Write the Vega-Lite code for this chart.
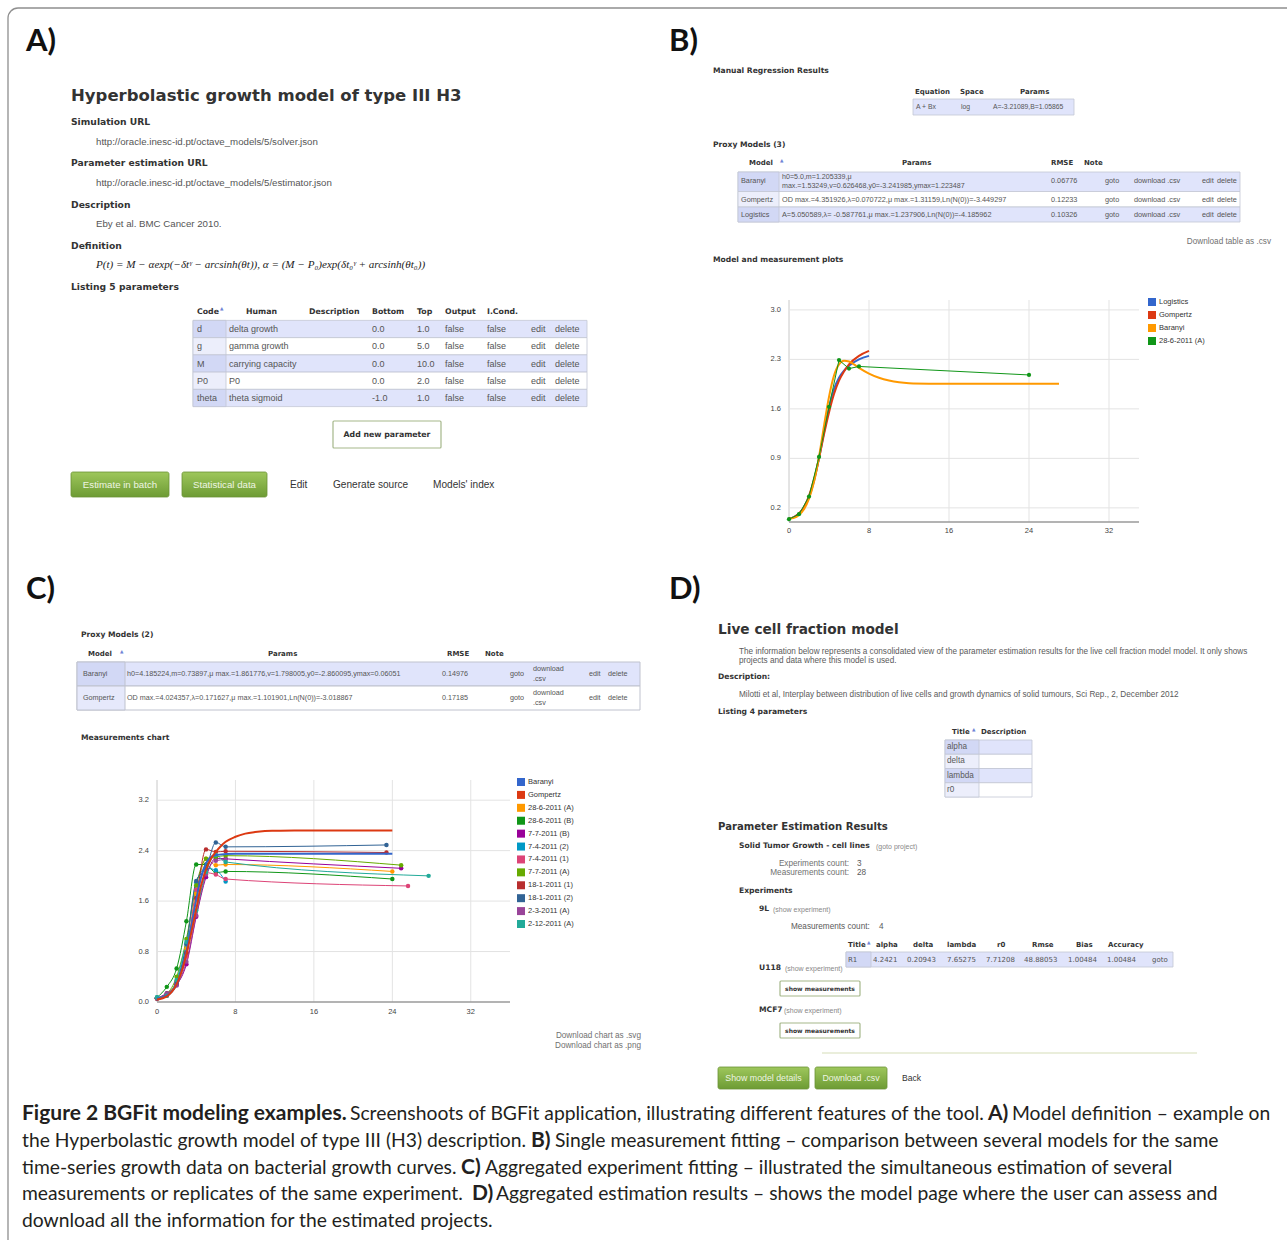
{
"$schema":"https://vega.github.io/schema/vega-lite/v6.json",
"width":1287,"height":1240,"padding":0,"autosize":{"type":"none"},
"background":"#ffffff",
"config":{"view":{"stroke":null},"text":{"font":"Liberation Sans"}},
"resolve":{"scale":{"x":"independent","y":"independent","color":"independent","fill":"independent"},"legend":{"color":"independent","fill":"independent"}},
"datasets":{
"chartB":[
{"s":"Logistics","k":"m","t":0,"v":0.05},{"s":"Logistics","k":"m","t":0.5,"v":0.07},{"s":"Logistics","k":"m","t":1,"v":0.12},{"s":"Logistics","k":"m","t":1.5,"v":0.2},{"s":"Logistics","k":"m","t":2,"v":0.35},{"s":"Logistics","k":"m","t":2.5,"v":0.58},{"s":"Logistics","k":"m","t":3,"v":0.9},{"s":"Logistics","k":"m","t":3.5,"v":1.27},{"s":"Logistics","k":"m","t":4,"v":1.62},{"s":"Logistics","k":"m","t":4.5,"v":1.88},{"s":"Logistics","k":"m","t":5,"v":2.04},{"s":"Logistics","k":"m","t":5.5,"v":2.14},{"s":"Logistics","k":"m","t":6,"v":2.21},{"s":"Logistics","k":"m","t":7,"v":2.3},{"s":"Logistics","k":"m","t":8,"v":2.35},
{"s":"Gompertz","k":"m","t":0,"v":0.05},{"s":"Gompertz","k":"m","t":0.5,"v":0.07},{"s":"Gompertz","k":"m","t":1,"v":0.12},{"s":"Gompertz","k":"m","t":1.5,"v":0.21},{"s":"Gompertz","k":"m","t":2,"v":0.37},{"s":"Gompertz","k":"m","t":2.5,"v":0.6},{"s":"Gompertz","k":"m","t":3,"v":0.9},{"s":"Gompertz","k":"m","t":3.5,"v":1.24},{"s":"Gompertz","k":"m","t":4,"v":1.55},{"s":"Gompertz","k":"m","t":4.5,"v":1.81},{"s":"Gompertz","k":"m","t":5,"v":2.0},{"s":"Gompertz","k":"m","t":5.5,"v":2.13},{"s":"Gompertz","k":"m","t":6,"v":2.23},{"s":"Gompertz","k":"m","t":7,"v":2.35},{"s":"Gompertz","k":"m","t":8,"v":2.42},
{"s":"Baranyi","k":"m","t":0,"v":0.05},{"s":"Baranyi","k":"m","t":0.5,"v":0.06},{"s":"Baranyi","k":"m","t":1,"v":0.1},{"s":"Baranyi","k":"m","t":1.5,"v":0.18},{"s":"Baranyi","k":"m","t":2,"v":0.33},{"s":"Baranyi","k":"m","t":2.5,"v":0.57},{"s":"Baranyi","k":"m","t":3,"v":0.92},{"s":"Baranyi","k":"m","t":3.5,"v":1.36},{"s":"Baranyi","k":"m","t":4,"v":1.77},{"s":"Baranyi","k":"m","t":4.5,"v":2.07},{"s":"Baranyi","k":"m","t":5,"v":2.23},{"s":"Baranyi","k":"m","t":5.5,"v":2.28},{"s":"Baranyi","k":"m","t":6,"v":2.27},{"s":"Baranyi","k":"m","t":6.5,"v":2.23},{"s":"Baranyi","k":"m","t":7,"v":2.18},{"s":"Baranyi","k":"m","t":8,"v":2.1},{"s":"Baranyi","k":"m","t":9,"v":2.04},{"s":"Baranyi","k":"m","t":10,"v":2.0},{"s":"Baranyi","k":"m","t":11,"v":1.975},{"s":"Baranyi","k":"m","t":12,"v":1.963},{"s":"Baranyi","k":"m","t":14,"v":1.957},{"s":"Baranyi","k":"m","t":18,"v":1.955},{"s":"Baranyi","k":"m","t":27,"v":1.955},
{"s":"28-6-2011 (A)","k":"d","t":0,"v":0.04},{"s":"28-6-2011 (A)","k":"d","t":1,"v":0.11},{"s":"28-6-2011 (A)","k":"d","t":2,"v":0.36},{"s":"28-6-2011 (A)","k":"d","t":3,"v":0.92},{"s":"28-6-2011 (A)","k":"d","t":4,"v":1.63},{"s":"28-6-2011 (A)","k":"d","t":5,"v":2.29},{"s":"28-6-2011 (A)","k":"d","t":6,"v":2.17},{"s":"28-6-2011 (A)","k":"d","t":7,"v":2.2},{"s":"28-6-2011 (A)","k":"d","t":24,"v":2.08}
],
"chartC":[
{"s":"Baranyi","k":"m","t":0,"v":0.05},{"s":"Baranyi","k":"m","t":1,"v":0.1},{"s":"Baranyi","k":"m","t":1.5,"v":0.16},{"s":"Baranyi","k":"m","t":2,"v":0.28},{"s":"Baranyi","k":"m","t":2.5,"v":0.5},{"s":"Baranyi","k":"m","t":3,"v":0.8},{"s":"Baranyi","k":"m","t":3.5,"v":1.2},{"s":"Baranyi","k":"m","t":4,"v":1.62},{"s":"Baranyi","k":"m","t":4.5,"v":1.98},{"s":"Baranyi","k":"m","t":5,"v":2.2},{"s":"Baranyi","k":"m","t":5.5,"v":2.3},{"s":"Baranyi","k":"m","t":6,"v":2.33},{"s":"Baranyi","k":"m","t":7,"v":2.345},{"s":"Baranyi","k":"m","t":8,"v":2.35},{"s":"Baranyi","k":"m","t":24,"v":2.35},
{"s":"Gompertz","k":"m","t":0,"v":0.04},{"s":"Gompertz","k":"m","t":1,"v":0.09},{"s":"Gompertz","k":"m","t":1.5,"v":0.16},{"s":"Gompertz","k":"m","t":2,"v":0.28},{"s":"Gompertz","k":"m","t":2.5,"v":0.48},{"s":"Gompertz","k":"m","t":3,"v":0.76},{"s":"Gompertz","k":"m","t":3.5,"v":1.1},{"s":"Gompertz","k":"m","t":4,"v":1.47},{"s":"Gompertz","k":"m","t":4.5,"v":1.85},{"s":"Gompertz","k":"m","t":5,"v":2.1},{"s":"Gompertz","k":"m","t":5.5,"v":2.27},{"s":"Gompertz","k":"m","t":6,"v":2.38},{"s":"Gompertz","k":"m","t":6.5,"v":2.47},{"s":"Gompertz","k":"m","t":7,"v":2.54},{"s":"Gompertz","k":"m","t":8,"v":2.62},{"s":"Gompertz","k":"m","t":9,"v":2.67},{"s":"Gompertz","k":"m","t":10,"v":2.695},{"s":"Gompertz","k":"m","t":11,"v":2.71},{"s":"Gompertz","k":"m","t":12,"v":2.715},{"s":"Gompertz","k":"m","t":14,"v":2.72},{"s":"Gompertz","k":"m","t":24,"v":2.72},
{"s":"28-6-2011 (A)","k":"d","t":0,"v":0.06},{"s":"28-6-2011 (A)","k":"d","t":1,"v":0.12},{"s":"28-6-2011 (A)","k":"d","t":2,"v":0.33},{"s":"28-6-2011 (A)","k":"d","t":3,"v":0.85},{"s":"28-6-2011 (A)","k":"d","t":4,"v":1.72},{"s":"28-6-2011 (A)","k":"d","t":5,"v":2.27},{"s":"28-6-2011 (A)","k":"d","t":6,"v":2.17},{"s":"28-6-2011 (A)","k":"d","t":7,"v":2.18},{"s":"28-6-2011 (A)","k":"d","t":24,"v":2.07},
{"s":"28-6-2011 (B)","k":"d","t":0,"v":0.07},{"s":"28-6-2011 (B)","k":"d","t":1,"v":0.24},{"s":"28-6-2011 (B)","k":"d","t":2,"v":0.53},{"s":"28-6-2011 (B)","k":"d","t":3,"v":1.28},{"s":"28-6-2011 (B)","k":"d","t":4,"v":2.18},{"s":"28-6-2011 (B)","k":"d","t":5,"v":2.18},{"s":"28-6-2011 (B)","k":"d","t":6,"v":2.05},{"s":"28-6-2011 (B)","k":"d","t":7,"v":2.07},{"s":"28-6-2011 (B)","k":"d","t":24,"v":1.95},
{"s":"7-7-2011 (B)","k":"d","t":0,"v":0.06},{"s":"7-7-2011 (B)","k":"d","t":1,"v":0.14},{"s":"7-7-2011 (B)","k":"d","t":2,"v":0.27},{"s":"7-7-2011 (B)","k":"d","t":3,"v":0.6},{"s":"7-7-2011 (B)","k":"d","t":4,"v":1.35},{"s":"7-7-2011 (B)","k":"d","t":5,"v":1.98},{"s":"7-7-2011 (B)","k":"d","t":6,"v":2.28},{"s":"7-7-2011 (B)","k":"d","t":7,"v":2.27},{"s":"7-7-2011 (B)","k":"d","t":24.9,"v":2.12},
{"s":"7-4-2011 (2)","k":"d","t":0,"v":0.07},{"s":"7-4-2011 (2)","k":"d","t":1,"v":0.12},{"s":"7-4-2011 (2)","k":"d","t":2,"v":0.32},{"s":"7-4-2011 (2)","k":"d","t":3,"v":0.92},{"s":"7-4-2011 (2)","k":"d","t":4,"v":1.9},{"s":"7-4-2011 (2)","k":"d","t":5,"v":2.12},{"s":"7-4-2011 (2)","k":"d","t":6,"v":2.09},{"s":"7-4-2011 (2)","k":"d","t":7,"v":1.91},
{"s":"7-4-2011 (1)","k":"d","t":0,"v":0.06},{"s":"7-4-2011 (1)","k":"d","t":1,"v":0.12},{"s":"7-4-2011 (1)","k":"d","t":2,"v":0.3},{"s":"7-4-2011 (1)","k":"d","t":3,"v":0.72},{"s":"7-4-2011 (1)","k":"d","t":4,"v":1.78},{"s":"7-4-2011 (1)","k":"d","t":5,"v":2.05},{"s":"7-4-2011 (1)","k":"d","t":6,"v":2.02},{"s":"7-4-2011 (1)","k":"d","t":7,"v":1.95},{"s":"7-4-2011 (1)","k":"d","t":25.6,"v":1.84},
{"s":"7-7-2011 (A)","k":"d","t":0,"v":0.06},{"s":"7-7-2011 (A)","k":"d","t":1,"v":0.13},{"s":"7-7-2011 (A)","k":"d","t":2,"v":0.4},{"s":"7-7-2011 (A)","k":"d","t":3,"v":1.0},{"s":"7-7-2011 (A)","k":"d","t":4,"v":1.85},{"s":"7-7-2011 (A)","k":"d","t":5,"v":2.27},{"s":"7-7-2011 (A)","k":"d","t":6,"v":2.3},{"s":"7-7-2011 (A)","k":"d","t":7,"v":2.32},{"s":"7-7-2011 (A)","k":"d","t":24.9,"v":2.17},
{"s":"18-1-2011 (1)","k":"d","t":0,"v":0.05},{"s":"18-1-2011 (1)","k":"d","t":1,"v":0.1},{"s":"18-1-2011 (1)","k":"d","t":2,"v":0.28},{"s":"18-1-2011 (1)","k":"d","t":3,"v":0.78},{"s":"18-1-2011 (1)","k":"d","t":4,"v":1.65},{"s":"18-1-2011 (1)","k":"d","t":5,"v":2.42},{"s":"18-1-2011 (1)","k":"d","t":6,"v":2.38},{"s":"18-1-2011 (1)","k":"d","t":7,"v":2.39},{"s":"18-1-2011 (1)","k":"d","t":23.4,"v":2.37},
{"s":"18-1-2011 (2)","k":"d","t":0,"v":0.06},{"s":"18-1-2011 (2)","k":"d","t":1,"v":0.11},{"s":"18-1-2011 (2)","k":"d","t":2,"v":0.3},{"s":"18-1-2011 (2)","k":"d","t":3,"v":0.92},{"s":"18-1-2011 (2)","k":"d","t":4,"v":1.92},{"s":"18-1-2011 (2)","k":"d","t":5,"v":2.12},{"s":"18-1-2011 (2)","k":"d","t":6,"v":2.53},{"s":"18-1-2011 (2)","k":"d","t":7,"v":2.46},{"s":"18-1-2011 (2)","k":"d","t":23.4,"v":2.49},
{"s":"2-3-2011 (A)","k":"d","t":0,"v":0.06},{"s":"2-3-2011 (A)","k":"d","t":1,"v":0.13},{"s":"2-3-2011 (A)","k":"d","t":2,"v":0.26},{"s":"2-3-2011 (A)","k":"d","t":3,"v":0.64},{"s":"2-3-2011 (A)","k":"d","t":4,"v":1.37},{"s":"2-3-2011 (A)","k":"d","t":5,"v":2.02},{"s":"2-3-2011 (A)","k":"d","t":6,"v":2.24},{"s":"2-3-2011 (A)","k":"d","t":7,"v":2.26},
{"s":"2-12-2011 (A)","k":"d","t":0,"v":0.07},{"s":"2-12-2011 (A)","k":"d","t":1,"v":0.1},{"s":"2-12-2011 (A)","k":"d","t":2,"v":0.35},{"s":"2-12-2011 (A)","k":"d","t":3,"v":0.95},{"s":"2-12-2011 (A)","k":"d","t":4,"v":1.45},{"s":"2-12-2011 (A)","k":"d","t":5,"v":2.06},{"s":"2-12-2011 (A)","k":"d","t":6,"v":2.33},{"s":"2-12-2011 (A)","k":"d","t":7,"v":2.22},{"s":"2-12-2011 (A)","k":"d","t":27.7,"v":2.0}
],
"legB":[{"s":"Logistics","i":0},{"s":"Gompertz","i":1},{"s":"Baranyi","i":2},{"s":"28-6-2011 (A)","i":3}],
"legC":[{"s":"Baranyi","i":0},{"s":"Gompertz","i":1},{"s":"28-6-2011 (A)","i":2},{"s":"28-6-2011 (B)","i":3},{"s":"7-7-2011 (B)","i":4},{"s":"7-4-2011 (2)","i":5},{"s":"7-4-2011 (1)","i":6},{"s":"7-7-2011 (A)","i":7},{"s":"18-1-2011 (1)","i":8},{"s":"18-1-2011 (2)","i":9},{"s":"2-3-2011 (A)","i":10},{"s":"2-12-2011 (A)","i":11}]
},
"layer":[
{"data":{"values":[{"a":0,"b":1}]},"mark":{"type":"rect","fillOpacity":0,"stroke":"#8f8f8f","strokeWidth":1.3,"cornerRadius":10},
 "encoding":{"x":{"field":"a","type":"quantitative","scale":{"domain":[0,1],"range":[8,1300],"nice":false,"zero":false},"axis":null},"x2":{"field":"b"},
 "y":{"field":"a","type":"quantitative","scale":{"domain":[0,1],"range":[8,1262],"nice":false,"zero":false},"axis":null},"y2":{"field":"b"}}},

{"data":{"values":[{"tb":"A","r":0},{"tb":"A","r":1},{"tb":"A","r":2},{"tb":"A","r":3},{"tb":"A","r":4}]},"mark":{"type":"rect","stroke":"#c3c6d4","strokeWidth":0.8},
 "encoding":{"x":{"field":"tb","type":"nominal","scale":{"type":"band","range":[193,587],"paddingInner":0,"paddingOuter":0},"axis":null},
 "y":{"field":"r","type":"ordinal","scale":{"type":"band","domain":[0,1,2,3,4],"range":[320.4,406.6],"paddingInner":0,"paddingOuter":0},"axis":null},
 "fill":{"field":"r","type":"ordinal","scale":{"domain":[0,1,2,3,4],"range":["#e0e4fb","#ffffff","#e0e4fb","#ffffff","#e0e4fb"]},"legend":null}}},
{"data":{"values":[{"tb":"A","r":0},{"tb":"A","r":1},{"tb":"A","r":2},{"tb":"A","r":3},{"tb":"A","r":4}]},"mark":{"type":"rect","stroke":"#c3c6d4","strokeWidth":0.8},
 "encoding":{"x":{"field":"tb","type":"nominal","scale":{"type":"band","range":[193,226],"paddingInner":0,"paddingOuter":0},"axis":null},
 "y":{"field":"r","type":"ordinal","scale":{"type":"band","domain":[0,1,2,3,4],"range":[320.4,406.6],"paddingInner":0,"paddingOuter":0},"axis":null},
 "fill":{"field":"r","type":"ordinal","scale":{"domain":[0,1,2,3,4],"range":["#d2d8f5","#eceefb","#d2d8f5","#eceefb","#d2d8f5"]},"legend":null}}},

{"data":{"values":[{"tb":"b"}]},"mark":{"type":"rect","fill":"#e0e4fb","stroke":"#c3c6d4","strokeWidth":0.8},
 "encoding":{"x":{"field":"tb","type":"nominal","scale":{"type":"band","range":[913,1074],"paddingInner":0,"paddingOuter":0},"axis":null},
 "y":{"field":"tb","type":"nominal","scale":{"type":"band","range":[99,115],"paddingInner":0,"paddingOuter":0},"axis":null}}},

{"data":{"values":[{"tb":"P","r":0,"r2":1},{"tb":"P","r":1,"r2":2},{"tb":"P","r":2,"r2":3}]},"mark":{"type":"rect","stroke":"#c3c6d4","strokeWidth":0.8},
 "encoding":{"x":{"field":"tb","type":"nominal","scale":{"type":"band","range":[738,1240],"paddingInner":0,"paddingOuter":0},"axis":null},
 "y":{"field":"r","type":"quantitative","scale":{"domain":[0,1,2,3],"range":[172,191.5,207,222],"nice":false,"zero":false},"axis":null},"y2":{"field":"r2"},
 "fill":{"field":"r","type":"ordinal","scale":{"domain":[0,1,2],"range":["#e0e4fb","#ffffff","#e0e4fb"]},"legend":null}}},
{"data":{"values":[{"tb":"P","r":0,"r2":1},{"tb":"P","r":1,"r2":2},{"tb":"P","r":2,"r2":3}]},"mark":{"type":"rect","stroke":"#c3c6d4","strokeWidth":0.8},
 "encoding":{"x":{"field":"tb","type":"nominal","scale":{"type":"band","range":[738,779],"paddingInner":0,"paddingOuter":0},"axis":null},
 "y":{"field":"r","type":"quantitative","scale":{"domain":[0,1,2,3],"range":[172,191.5,207,222],"nice":false,"zero":false},"axis":null},"y2":{"field":"r2"},
 "fill":{"field":"r","type":"ordinal","scale":{"domain":[0,1,2],"range":["#d2d8f5","#eceefb","#d2d8f5"]},"legend":null}}},

{"data":{"values":[{"tb":"C","r":0},{"tb":"C","r":1}]},"mark":{"type":"rect","stroke":"#bfc2ce","strokeWidth":1},
 "encoding":{"x":{"field":"tb","type":"nominal","scale":{"type":"band","range":[77,640],"paddingInner":0,"paddingOuter":0},"axis":null},
 "y":{"field":"r","type":"ordinal","scale":{"type":"band","domain":[0,1],"range":[662,710],"paddingInner":0,"paddingOuter":0},"axis":null},
 "fill":{"field":"r","type":"ordinal","scale":{"domain":[0,1],"range":["#e0e4fb","#ffffff"]},"legend":null}}},
{"data":{"values":[{"tb":"C","r":0},{"tb":"C","r":1}]},"mark":{"type":"rect","stroke":"#bfc2ce","strokeWidth":1},
 "encoding":{"x":{"field":"tb","type":"nominal","scale":{"type":"band","range":[77,125],"paddingInner":0,"paddingOuter":0},"axis":null},
 "y":{"field":"r","type":"ordinal","scale":{"type":"band","domain":[0,1],"range":[662,710],"paddingInner":0,"paddingOuter":0},"axis":null},
 "fill":{"field":"r","type":"ordinal","scale":{"domain":[0,1],"range":["#d2d8f5","#e6e9fb"]},"legend":null}}},

{"data":{"values":[{"tb":"D","r":0},{"tb":"D","r":1},{"tb":"D","r":2},{"tb":"D","r":3}]},"mark":{"type":"rect","stroke":"#c3c6d4","strokeWidth":0.8},
 "encoding":{"x":{"field":"tb","type":"nominal","scale":{"type":"band","range":[945,1032],"paddingInner":0,"paddingOuter":0},"axis":null},
 "y":{"field":"r","type":"ordinal","scale":{"type":"band","domain":[0,1,2,3],"range":[740,797],"paddingInner":0,"paddingOuter":0},"axis":null},
 "fill":{"field":"r","type":"ordinal","scale":{"domain":[0,1,2,3],"range":["#e0e4fb","#ffffff","#e0e4fb","#ffffff"]},"legend":null}}},
{"data":{"values":[{"tb":"D","r":0},{"tb":"D","r":1},{"tb":"D","r":2},{"tb":"D","r":3}]},"mark":{"type":"rect","stroke":"#c3c6d4","strokeWidth":0.8},
 "encoding":{"x":{"field":"tb","type":"nominal","scale":{"type":"band","range":[945,979],"paddingInner":0,"paddingOuter":0},"axis":null},
 "y":{"field":"r","type":"ordinal","scale":{"type":"band","domain":[0,1,2,3],"range":[740,797],"paddingInner":0,"paddingOuter":0},"axis":null},
 "fill":{"field":"r","type":"ordinal","scale":{"domain":[0,1,2,3],"range":["#d2d8f5","#eceefb","#d2d8f5","#eceefb"]},"legend":null}}},

{"data":{"values":[{"tb":"R"}]},"mark":{"type":"rect","fill":"#e0e4fb","stroke":"#c3c6d4","strokeWidth":0.8},
 "encoding":{"x":{"field":"tb","type":"nominal","scale":{"type":"band","range":[846,1173],"paddingInner":0,"paddingOuter":0},"axis":null},
 "y":{"field":"tb","type":"nominal","scale":{"type":"band","range":[952,967],"paddingInner":0,"paddingOuter":0},"axis":null}}},
{"data":{"values":[{"tb":"R"}]},"mark":{"type":"rect","fill":"#d2d8f5","stroke":"#c3c6d4","strokeWidth":0.8},
 "encoding":{"x":{"field":"tb","type":"nominal","scale":{"type":"band","range":[846,871],"paddingInner":0,"paddingOuter":0},"axis":null},
 "y":{"field":"tb","type":"nominal","scale":{"type":"band","range":[952,967],"paddingInner":0,"paddingOuter":0},"axis":null}}},

{"data":{"values":[{"a":0,"b":1}]},"mark":{"type":"rule","color":"#e3e9cf","strokeWidth":1.5},
 "encoding":{"x":{"field":"a","type":"quantitative","scale":{"domain":[0,1],"range":[822,1197],"nice":false,"zero":false},"axis":null},"x2":{"field":"b"},
 "y":{"field":"a","type":"quantitative","scale":{"domain":[0,1],"range":[1053,1054],"nice":false,"zero":false},"axis":null}}},

{"data":{"values":[{"k":0,"k2":1,"j":0,"j2":1},{"k":2,"k2":3,"j":0,"j2":1},{"k":4,"k2":5,"j":2,"j2":3},{"k":6,"k2":7,"j":2,"j2":3}]},
 "mark":{"type":"rect","stroke":"#6b9236","strokeWidth":0.8,"cornerRadius":2,"fill":{"gradient":"linear","x1":0,"y1":0,"x2":0,"y2":1,"stops":[{"offset":0,"color":"#9ec75c"},{"offset":1,"color":"#6d9b34"}]}},
 "encoding":{"x":{"field":"k","type":"quantitative","scale":{"domain":[0,1,2,3,4,5,6,7],"range":[71,169,182,267,718,809,815,887],"nice":false,"zero":false},"axis":null},"x2":{"field":"k2"},
 "y":{"field":"j","type":"quantitative","scale":{"domain":[0,1,2,3],"range":[472,497,1067,1089],"nice":false,"zero":false},"axis":null},"y2":{"field":"j2"}}},
{"data":{"values":[{"k":0,"k2":1,"j":0,"j2":1},{"k":2,"k2":3,"j":2,"j2":3},{"k":2,"k2":3,"j":4,"j2":5}]},
 "mark":{"type":"rect","fill":"#ffffff","stroke":"#a5b78a","strokeWidth":1.2,"cornerRadius":1},
 "encoding":{"x":{"field":"k","type":"quantitative","scale":{"domain":[0,1,2,3],"range":[333,441,780,860],"nice":false,"zero":false},"axis":null},"x2":{"field":"k2"},
 "y":{"field":"j","type":"quantitative","scale":{"domain":[0,1,2,3,4,5],"range":[421,448,981,996,1023,1038],"nice":false,"zero":false},"axis":null},"y2":{"field":"j2"}}},

{"layer":[
 {"data":{"values":[{"g":0}]},"mark":{"type":"rule","color":"#c8c8c8"},
  "encoding":{"x":{"field":"g","type":"quantitative","scale":{"domain":[0,35],"range":[789,1139],"nice":false,"zero":false},"axis":null},"y":{"datum":0,"type":"quantitative","scale":{"domain":[0,3.14],"range":[522,300],"nice":false,"zero":false},"axis":null},"y2":{"datum":3.14}}},
 {"data":{"values":[{"g":8},{"g":16},{"g":24},{"g":32}]},"mark":{"type":"rule","color":"#e3e3e3"},
  "encoding":{"x":{"field":"g","type":"quantitative","scale":{"domain":[0,35],"range":[789,1139],"nice":false,"zero":false},"axis":null},"y":{"datum":0,"type":"quantitative","scale":{"domain":[0,3.14],"range":[522,300],"nice":false,"zero":false},"axis":null},"y2":{"datum":3.14}}},
 {"data":{"values":[{"h":0.2},{"h":0.9},{"h":1.6},{"h":2.3},{"h":3.0}]},"mark":{"type":"rule","color":"#e3e3e3"},
  "encoding":{"y":{"field":"h","type":"quantitative","scale":{"domain":[0,3.14],"range":[522,300],"nice":false,"zero":false},"axis":null},"x":{"datum":0,"type":"quantitative","scale":{"domain":[0,35],"range":[789,1139],"nice":false,"zero":false},"axis":null},"x2":{"datum":35}}},
 {"data":{"values":[{"h":0}]},"mark":{"type":"rule","color":"#9a9a9a","strokeWidth":1.5},
  "encoding":{"y":{"field":"h","type":"quantitative","scale":{"domain":[0,3.14],"range":[522,300],"nice":false,"zero":false},"axis":null},"x":{"datum":0,"type":"quantitative","scale":{"domain":[0,35],"range":[789,1139],"nice":false,"zero":false},"axis":null},"x2":{"datum":35}}},
 {"data":{"values":[{"g":0},{"g":8},{"g":16},{"g":24},{"g":32}]},"mark":{"type":"text","align":"center","baseline":"top","dy":5,"fontSize":7.5,"color":"#444444"},
  "encoding":{"x":{"field":"g","type":"quantitative","scale":{"domain":[0,35],"range":[789,1139],"nice":false,"zero":false},"axis":null},"y":{"datum":0,"type":"quantitative","scale":{"domain":[0,3.14],"range":[522,300],"nice":false,"zero":false},"axis":null},"text":{"field":"g","type":"quantitative"}}},
 {"data":{"values":[{"h":0.2},{"h":0.9},{"h":1.6},{"h":2.3},{"h":3.0}]},"mark":{"type":"text","align":"right","baseline":"middle","dx":-8,"fontSize":7.5,"color":"#444444"},
  "encoding":{"y":{"field":"h","type":"quantitative","scale":{"domain":[0,3.14],"range":[522,300],"nice":false,"zero":false},"axis":null},"x":{"datum":0,"type":"quantitative","scale":{"domain":[0,35],"range":[789,1139],"nice":false,"zero":false},"axis":null},"text":{"field":"h","type":"quantitative","format":".1f"}}},
 {"data":{"name":"chartB"},"transform":[{"filter":"datum.k === 'm'"}],"mark":{"type":"line","strokeWidth":2,"interpolate":"monotone"},
  "encoding":{"x":{"field":"t","type":"quantitative","scale":{"domain":[0,35],"range":[789,1139],"nice":false,"zero":false},"axis":null},
   "y":{"field":"v","type":"quantitative","scale":{"domain":[0,3.14],"range":[522,300],"nice":false,"zero":false},"axis":null},
   "color":{"field":"s","type":"nominal","scale":{"domain":["Logistics","Gompertz","Baranyi","28-6-2011 (A)"],"range":["#3366cc","#dc3912","#ff9900","#109618"]},"legend":null}}},
 {"data":{"name":"chartB"},"transform":[{"filter":"datum.k === 'd'"}],"mark":{"type":"line","strokeWidth":1},
  "encoding":{"x":{"field":"t","type":"quantitative","scale":{"domain":[0,35],"range":[789,1139],"nice":false,"zero":false},"axis":null},
   "y":{"field":"v","type":"quantitative","scale":{"domain":[0,3.14],"range":[522,300],"nice":false,"zero":false},"axis":null},
   "color":{"field":"s","type":"nominal","scale":{"domain":["Logistics","Gompertz","Baranyi","28-6-2011 (A)"],"range":["#3366cc","#dc3912","#ff9900","#109618"]},"legend":null}}},
 {"data":{"name":"chartB"},"transform":[{"filter":"datum.k === 'd'"}],"mark":{"type":"point","filled":true,"size":18,"opacity":1},
  "encoding":{"x":{"field":"t","type":"quantitative","scale":{"domain":[0,35],"range":[789,1139],"nice":false,"zero":false},"axis":null},
   "y":{"field":"v","type":"quantitative","scale":{"domain":[0,3.14],"range":[522,300],"nice":false,"zero":false},"axis":null},
   "color":{"field":"s","type":"nominal","scale":{"domain":["Logistics","Gompertz","Baranyi","28-6-2011 (A)"],"range":["#3366cc","#dc3912","#ff9900","#109618"]},"legend":null}}}
]},

{"layer":[
 {"data":{"values":[{"g":0}]},"mark":{"type":"rule","color":"#c8c8c8"},
  "encoding":{"x":{"field":"g","type":"quantitative","scale":{"domain":[0,36],"range":[157,510],"nice":false,"zero":false},"axis":null},"y":{"datum":0,"type":"quantitative","scale":{"domain":[0,3.52],"range":[1002,780],"nice":false,"zero":false},"axis":null},"y2":{"datum":3.52}}},
 {"data":{"values":[{"g":8},{"g":16},{"g":24},{"g":32}]},"mark":{"type":"rule","color":"#e3e3e3"},
  "encoding":{"x":{"field":"g","type":"quantitative","scale":{"domain":[0,36],"range":[157,510],"nice":false,"zero":false},"axis":null},"y":{"datum":0,"type":"quantitative","scale":{"domain":[0,3.52],"range":[1002,780],"nice":false,"zero":false},"axis":null},"y2":{"datum":3.52}}},
 {"data":{"values":[{"h":0.8},{"h":1.6},{"h":2.4},{"h":3.2}]},"mark":{"type":"rule","color":"#e3e3e3"},
  "encoding":{"y":{"field":"h","type":"quantitative","scale":{"domain":[0,3.52],"range":[1002,780],"nice":false,"zero":false},"axis":null},"x":{"datum":0,"type":"quantitative","scale":{"domain":[0,36],"range":[157,510],"nice":false,"zero":false},"axis":null},"x2":{"datum":36}}},
 {"data":{"values":[{"h":0}]},"mark":{"type":"rule","color":"#9a9a9a","strokeWidth":1.5},
  "encoding":{"y":{"field":"h","type":"quantitative","scale":{"domain":[0,3.52],"range":[1002,780],"nice":false,"zero":false},"axis":null},"x":{"datum":0,"type":"quantitative","scale":{"domain":[0,36],"range":[157,510],"nice":false,"zero":false},"axis":null},"x2":{"datum":36}}},
 {"data":{"values":[{"g":0},{"g":8},{"g":16},{"g":24},{"g":32}]},"mark":{"type":"text","align":"center","baseline":"top","dy":6,"fontSize":7.5,"color":"#444444"},
  "encoding":{"x":{"field":"g","type":"quantitative","scale":{"domain":[0,36],"range":[157,510],"nice":false,"zero":false},"axis":null},"y":{"datum":0,"type":"quantitative","scale":{"domain":[0,3.52],"range":[1002,780],"nice":false,"zero":false},"axis":null},"text":{"field":"g","type":"quantitative"}}},
 {"data":{"values":[{"h":0},{"h":0.8},{"h":1.6},{"h":2.4},{"h":3.2}]},"mark":{"type":"text","align":"right","baseline":"middle","dx":-8,"fontSize":7.5,"color":"#444444"},
  "encoding":{"y":{"field":"h","type":"quantitative","scale":{"domain":[0,3.52],"range":[1002,780],"nice":false,"zero":false},"axis":null},"x":{"datum":0,"type":"quantitative","scale":{"domain":[0,36],"range":[157,510],"nice":false,"zero":false},"axis":null},"text":{"field":"h","type":"quantitative","format":".1f"}}},
 {"data":{"name":"chartC"},"transform":[{"filter":"datum.k === 'd'"}],"mark":{"type":"line","strokeWidth":1,"interpolate":"monotone"},
  "encoding":{"x":{"field":"t","type":"quantitative","scale":{"domain":[0,36],"range":[157,510],"nice":false,"zero":false},"axis":null},
   "y":{"field":"v","type":"quantitative","scale":{"domain":[0,3.52],"range":[1002,780],"nice":false,"zero":false},"axis":null},
   "color":{"field":"s","type":"nominal","scale":{"domain":["Baranyi","Gompertz","28-6-2011 (A)","28-6-2011 (B)","7-7-2011 (B)","7-4-2011 (2)","7-4-2011 (1)","7-7-2011 (A)","18-1-2011 (1)","18-1-2011 (2)","2-3-2011 (A)","2-12-2011 (A)"],"range":["#3366cc","#dc3912","#ff9900","#109618","#990099","#0099c6","#dd4477","#66aa00","#b82e2e","#316395","#994499","#22aa99"]},"legend":null}}},
 {"data":{"name":"chartC"},"transform":[{"filter":"datum.k === 'd'"}],"mark":{"type":"point","filled":true,"size":20,"opacity":1},
  "encoding":{"x":{"field":"t","type":"quantitative","scale":{"domain":[0,36],"range":[157,510],"nice":false,"zero":false},"axis":null},
   "y":{"field":"v","type":"quantitative","scale":{"domain":[0,3.52],"range":[1002,780],"nice":false,"zero":false},"axis":null},
   "color":{"field":"s","type":"nominal","scale":{"domain":["Baranyi","Gompertz","28-6-2011 (A)","28-6-2011 (B)","7-7-2011 (B)","7-4-2011 (2)","7-4-2011 (1)","7-7-2011 (A)","18-1-2011 (1)","18-1-2011 (2)","2-3-2011 (A)","2-12-2011 (A)"],"range":["#3366cc","#dc3912","#ff9900","#109618","#990099","#0099c6","#dd4477","#66aa00","#b82e2e","#316395","#994499","#22aa99"]},"legend":null}}},
 {"data":{"name":"chartC"},"transform":[{"filter":"datum.k === 'm'"}],"mark":{"type":"line","strokeWidth":2,"interpolate":"monotone"},
  "encoding":{"x":{"field":"t","type":"quantitative","scale":{"domain":[0,36],"range":[157,510],"nice":false,"zero":false},"axis":null},
   "y":{"field":"v","type":"quantitative","scale":{"domain":[0,3.52],"range":[1002,780],"nice":false,"zero":false},"axis":null},
   "color":{"field":"s","type":"nominal","scale":{"domain":["Baranyi","Gompertz","28-6-2011 (A)","28-6-2011 (B)","7-7-2011 (B)","7-4-2011 (2)","7-4-2011 (1)","7-7-2011 (A)","18-1-2011 (1)","18-1-2011 (2)","2-3-2011 (A)","2-12-2011 (A)"],"range":["#3366cc","#dc3912","#ff9900","#109618","#990099","#0099c6","#dd4477","#66aa00","#b82e2e","#316395","#994499","#22aa99"]},"legend":null}}}
]},

{"data":{"name":"legB"},
 "encoding":{"x":{"field":"i","type":"quantitative","scale":{"domain":[0,3],"range":[1152,1152],"nice":false,"zero":false},"axis":null},
  "y":{"field":"i","type":"quantitative","scale":{"domain":[0,3],"range":[302,341],"nice":false,"zero":false},"axis":null}},
 "layer":[
  {"mark":{"type":"point","shape":"square","filled":true,"size":64,"opacity":1},
   "encoding":{"color":{"field":"s","type":"nominal","scale":{"domain":["Logistics","Gompertz","Baranyi","28-6-2011 (A)"],"range":["#3366cc","#dc3912","#ff9900","#109618"]},"legend":null}}},
  {"mark":{"type":"text","align":"left","baseline":"middle","dx":7,"fontSize":7.5,"color":"#333333"},"encoding":{"text":{"field":"s"}}}
 ]},
{"data":{"name":"legC"},
 "encoding":{"x":{"field":"i","type":"quantitative","scale":{"domain":[0,11],"range":[521,521],"nice":false,"zero":false},"axis":null},
  "y":{"field":"i","type":"quantitative","scale":{"domain":[0,11],"range":[782,924],"nice":false,"zero":false},"axis":null}},
 "layer":[
  {"mark":{"type":"point","shape":"square","filled":true,"size":64,"opacity":1},
   "encoding":{"color":{"field":"s","type":"nominal","scale":{"domain":["Baranyi","Gompertz","28-6-2011 (A)","28-6-2011 (B)","7-7-2011 (B)","7-4-2011 (2)","7-4-2011 (1)","7-7-2011 (A)","18-1-2011 (1)","18-1-2011 (2)","2-3-2011 (A)","2-12-2011 (A)"],"range":["#3366cc","#dc3912","#ff9900","#109618","#990099","#0099c6","#dd4477","#66aa00","#b82e2e","#316395","#994499","#22aa99"]},"legend":null}}},
  {"mark":{"type":"text","align":"left","baseline":"middle","dx":7,"fontSize":7.5,"color":"#333333"},"encoding":{"text":{"field":"s"}}}
 ]},

{"data":{"values":[{"t":"A)","k":0},{"t":"B)","k":1},{"t":"C)","k":2},{"t":"D)","k":3}]},
 "mark":{"type":"text","align":"left","baseline":"middle","font":"Lato","fontWeight":"bold","fontSize":31,"color":"#111111"},
 "encoding":{"x":{"field":"k","type":"quantitative","scale":{"domain":[0,1,2,3],"range":[26,669,26,669],"nice":false,"zero":false},"axis":null},
 "y":{"field":"k","type":"quantitative","scale":{"domain":[0,1,2,3],"range":[42,42,590,590],"nice":false,"zero":false},"axis":null},"text":{"field":"t"}}},

{"data":{"values":[{"t":"Figure 2 BGFit modeling examples.","k":0},{"t":"A)","k":1},{"t":"B)","k":2},{"t":"C)","k":3},{"t":"D)","k":4}]},
 "mark":{"type":"text","align":"left","baseline":"middle","font":"Lato","fontWeight":"bold","fontSize":21,"color":"#231f20"},
 "encoding":{"x":{"field":"k","type":"quantitative","scale":{"domain":[0,1,2,3,4],"range":[22,988,531,461,472],"nice":false,"zero":false},"axis":null},
 "y":{"field":"k","type":"quantitative","scale":{"domain":[0,1,2,3,4],"range":[1114,1114,1141,1168,1194],"nice":false,"zero":false},"axis":null},"text":{"field":"t"}}},
{"data":{"values":[
 {"t":"Screenshoots of BGFit application, illustrating different features of the tool.","k":0},
 {"t":"Model definition – example on","k":1},
 {"t":"the Hyperbolastic growth model of type III (H3) description.","k":2},
 {"t":"Single measurement fitting – comparison between several models for the same","k":3},
 {"t":"time-series growth data on bacterial growth curves.","k":4},
 {"t":"Aggregated experiment fitting – illustrated the simultaneous estimation of several","k":5},
 {"t":"measurements or replicates of the same experiment.","k":6},
 {"t":"Aggregated estimation results – shows the model page where the user can assess and","k":7},
 {"t":"download all the information for the estimated projects.","k":8}]},
 "mark":{"type":"text","align":"left","baseline":"middle","font":"Lato","fontSize":19.3,"color":"#231f20"},
 "encoding":{"x":{"field":"k","type":"quantitative","scale":{"domain":[0,1,2,3,4,5,6,7,8],"range":[350,1012,22,555,22,485,22,496,22],"nice":false,"zero":false},"axis":null},
 "y":{"field":"k","type":"quantitative","scale":{"domain":[0,1,2,3,4,5,6,7,8],"range":[1114,1114,1141,1141,1168,1168,1194,1194,1221],"nice":false,"zero":false},"axis":null},"text":{"field":"t"}}},

{"data":{"values":[{"t":"Hyperbolastic growth model of type III H3","k":0}]},
 "mark":{"type":"text","align":"left","baseline":"middle","font":"DejaVu Sans","fontWeight":"bold","fontSize":16.5,"color":"#333333"},
 "encoding":{"x":{"field":"k","type":"quantitative","scale":{"domain":[0,1],"range":[71,72],"nice":false,"zero":false},"axis":null},
 "y":{"field":"k","type":"quantitative","scale":{"domain":[0,1],"range":[96,97],"nice":false,"zero":false},"axis":null},"text":{"field":"t"}}},
{"data":{"values":[{"t":"Live cell fraction model","k":0}]},
 "mark":{"type":"text","align":"left","baseline":"middle","font":"DejaVu Sans","fontWeight":"bold","fontSize":13.7,"color":"#333333"},
 "encoding":{"x":{"field":"k","type":"quantitative","scale":{"domain":[0,1],"range":[718,719],"nice":false,"zero":false},"axis":null},
 "y":{"field":"k","type":"quantitative","scale":{"domain":[0,1],"range":[630,631],"nice":false,"zero":false},"axis":null},"text":{"field":"t"}}},
{"data":{"values":[{"t":"Parameter Estimation Results","k":0}]},
 "mark":{"type":"text","align":"left","baseline":"middle","font":"DejaVu Sans","fontWeight":"bold","fontSize":10.1,"color":"#333333"},
 "encoding":{"x":{"field":"k","type":"quantitative","scale":{"domain":[0,1],"range":[718,719],"nice":false,"zero":false},"axis":null},
 "y":{"field":"k","type":"quantitative","scale":{"domain":[0,1],"range":[827,828],"nice":false,"zero":false},"axis":null},"text":{"field":"t"}}},

{"data":{"values":[{"t":"Simulation URL","k":0},{"t":"Parameter estimation URL","k":1},{"t":"Description","k":2},{"t":"Definition","k":3},{"t":"Listing 5 parameters","k":4}]},
 "mark":{"type":"text","align":"left","baseline":"middle","font":"DejaVu Sans","fontWeight":"bold","fontSize":9.2,"color":"#333333"},
 "encoding":{"x":{"field":"k","type":"quantitative","scale":{"domain":[0,4],"range":[71,71],"nice":false,"zero":false},"axis":null},
 "y":{"field":"k","type":"quantitative","scale":{"domain":[0,4],"range":[122,287],"nice":false,"zero":false},"axis":null},"text":{"field":"t"}}},

{"data":{"values":[{"t":"Manual Regression Results","k":0},{"t":"Proxy Models (3)","k":1},{"t":"Model and measurement plots","k":2},{"t":"Proxy Models (2)","k":3},{"t":"Measurements chart","k":4},{"t":"Description:","k":5},{"t":"Listing 4 parameters","k":6},{"t":"Solid Tumor Growth - cell lines","k":7},{"t":"Experiments","k":8},{"t":"9L","k":9},{"t":"U118","k":10},{"t":"MCF7","k":11}]},
 "mark":{"type":"text","align":"left","baseline":"middle","font":"DejaVu Sans","fontWeight":"bold","fontSize":7.6,"color":"#333333"},
 "encoding":{"x":{"field":"k","type":"quantitative","scale":{"domain":[0,1,2,3,4,5,6,7,8,9,10,11],"range":[713,713,713,81,81,718,718,739,739,759,759,759],"nice":false,"zero":false},"axis":null},
 "y":{"field":"k","type":"quantitative","scale":{"domain":[0,1,2,3,4,5,6,7,8,9,10,11],"range":[71,145,260,635,738,677,712,846,891,909,968,1010],"nice":false,"zero":false},"axis":null},"text":{"field":"t"}}},

{"data":{"values":[{"t":"Code","k":0},{"t":"Human","k":1},{"t":"Description","k":2},{"t":"Bottom","k":3},{"t":"Top","k":4},{"t":"Output","k":5},{"t":"I.Cond.","k":6}]},
 "mark":{"type":"text","align":"left","baseline":"middle","font":"DejaVu Sans","fontWeight":"bold","fontSize":7.8,"color":"#333333"},
 "encoding":{"x":{"field":"k","type":"quantitative","scale":{"domain":[0,1,2,3,4,5,6],"range":[197,246,309,372,417,445,487],"nice":false,"zero":false},"axis":null},
 "y":{"field":"k","type":"quantitative","scale":{"domain":[0,6],"range":[312,312],"nice":false,"zero":false},"axis":null},"text":{"field":"t"}}},

{"data":{"values":[{"t":"Equation","k":0},{"t":"Space","k":1},{"t":"Params","k":2},{"t":"Model","k":3},{"t":"Params","k":4},{"t":"RMSE","k":5},{"t":"Note","k":6},{"t":"Model","k":7},{"t":"Params","k":8},{"t":"RMSE","k":9},{"t":"Note","k":10},{"t":"Title","k":11},{"t":"Description","k":12},{"t":"Title","k":13},{"t":"alpha","k":14},{"t":"delta","k":15},{"t":"lambda","k":16},{"t":"r0","k":17},{"t":"Rmse","k":18},{"t":"Bias","k":19},{"t":"Accuracy","k":20}]},
 "mark":{"type":"text","align":"left","baseline":"middle","font":"DejaVu Sans","fontWeight":"bold","fontSize":7,"color":"#333333"},
 "encoding":{"x":{"field":"k","type":"quantitative","scale":{"domain":[0,1,2,3,4,5,6,7,8,9,10,11,12,13,14,15,16,17,18,19,20],"range":[915,960,1020,749,902,1051,1084,88,268,447,485,952,981,848,876,913,947,997,1032,1076,1108],"nice":false,"zero":false},"axis":null},
 "y":{"field":"k","type":"quantitative","scale":{"domain":[0,1,2,3,4,5,6,7,8,9,10,11,12,13,14,15,16,17,18,19,20],"range":[92,92,92,163,163,163,163,654,654,654,654,732,732,945,945,945,945,945,945,945,945],"nice":false,"zero":false},"axis":null},"text":{"field":"t"}}},

{"data":{"values":[{"t":"▲","k":0},{"t":"▲","k":1},{"t":"▲","k":2},{"t":"▲","k":3},{"t":"▲","k":4}]},
 "mark":{"type":"text","align":"left","baseline":"middle","font":"DejaVu Sans","fontSize":4.5,"color":"#6f83d6"},
 "encoding":{"x":{"field":"k","type":"quantitative","scale":{"domain":[0,1,2,3,4],"range":[220,780,120,972,867],"nice":false,"zero":false},"axis":null},
 "y":{"field":"k","type":"quantitative","scale":{"domain":[0,1,2,3,4],"range":[309,161,652,730,943],"nice":false,"zero":false},"axis":null},"text":{"field":"t"}}},

{"data":{"values":[{"t":"http://oracle.inesc-id.pt/octave_models/5/solver.json","k":0},{"t":"http://oracle.inesc-id.pt/octave_models/5/estimator.json","k":1},{"t":"Eby et al. BMC Cancer 2010.","k":2}]},
 "mark":{"type":"text","align":"left","baseline":"middle","fontSize":9.7,"color":"#555555"},
 "encoding":{"x":{"field":"k","type":"quantitative","scale":{"domain":[0,2],"range":[96,96],"nice":false,"zero":false},"axis":null},
 "y":{"field":"k","type":"quantitative","scale":{"domain":[0,2],"range":[142,224],"nice":false,"zero":false},"axis":null},"text":{"field":"t"}}},
{"data":{"values":[{"t":"P(t) = M − αexp(−δtᵞ − arcsinh(θt)), α = (M − P₀)exp(δt₀ᵞ + arcsinh(θt₀))","k":0}]},
 "mark":{"type":"text","align":"left","baseline":"middle","font":"Liberation Serif","fontStyle":"italic","fontSize":11.1,"color":"#222222"},
 "encoding":{"x":{"field":"k","type":"quantitative","scale":{"domain":[0,1],"range":[96,97],"nice":false,"zero":false},"axis":null},
 "y":{"field":"k","type":"quantitative","scale":{"domain":[0,1],"range":[265,266],"nice":false,"zero":false},"axis":null},"text":{"field":"t"}}},

{"data":{"values":[
 {"r":0,"c":0,"t":"d"},{"r":0,"c":1,"t":"delta growth"},{"r":0,"c":2,"t":"0.0"},{"r":0,"c":3,"t":"1.0"},{"r":0,"c":4,"t":"false"},{"r":0,"c":5,"t":"false"},{"r":0,"c":6,"t":"edit"},{"r":0,"c":7,"t":"delete"},
 {"r":1,"c":0,"t":"g"},{"r":1,"c":1,"t":"gamma growth"},{"r":1,"c":2,"t":"0.0"},{"r":1,"c":3,"t":"5.0"},{"r":1,"c":4,"t":"false"},{"r":1,"c":5,"t":"false"},{"r":1,"c":6,"t":"edit"},{"r":1,"c":7,"t":"delete"},
 {"r":2,"c":0,"t":"M"},{"r":2,"c":1,"t":"carrying capacity"},{"r":2,"c":2,"t":"0.0"},{"r":2,"c":3,"t":"10.0"},{"r":2,"c":4,"t":"false"},{"r":2,"c":5,"t":"false"},{"r":2,"c":6,"t":"edit"},{"r":2,"c":7,"t":"delete"},
 {"r":3,"c":0,"t":"P0"},{"r":3,"c":1,"t":"P0"},{"r":3,"c":2,"t":"0.0"},{"r":3,"c":3,"t":"2.0"},{"r":3,"c":4,"t":"false"},{"r":3,"c":5,"t":"false"},{"r":3,"c":6,"t":"edit"},{"r":3,"c":7,"t":"delete"},
 {"r":4,"c":0,"t":"theta"},{"r":4,"c":1,"t":"theta sigmoid"},{"r":4,"c":2,"t":"-1.0"},{"r":4,"c":3,"t":"1.0"},{"r":4,"c":4,"t":"false"},{"r":4,"c":5,"t":"false"},{"r":4,"c":6,"t":"edit"},{"r":4,"c":7,"t":"delete"}]},
 "mark":{"type":"text","align":"left","baseline":"middle","fontSize":9,"color":"#555555"},
 "encoding":{"x":{"field":"c","type":"quantitative","scale":{"domain":[0,1,2,3,4,5,6,7],"range":[197,229,372,417,445,487,531,555],"nice":false,"zero":false},"axis":null},
 "y":{"field":"r","type":"quantitative","scale":{"domain":[0,4],"range":[329,398],"nice":false,"zero":false},"axis":null},"text":{"field":"t"}}},

{"data":{"values":[{"t":"Edit","k":0},{"t":"Generate source","k":1},{"t":"Models' index","k":2}]},
 "mark":{"type":"text","align":"left","baseline":"middle","fontSize":10.1,"color":"#333333"},
 "encoding":{"x":{"field":"k","type":"quantitative","scale":{"domain":[0,1,2],"range":[290,333,433],"nice":false,"zero":false},"axis":null},
 "y":{"field":"k","type":"quantitative","scale":{"domain":[0,2],"range":[484.5,484.5],"nice":false,"zero":false},"axis":null},"text":{"field":"t"}}},
{"data":{"values":[{"t":"Back","k":0}]},
 "mark":{"type":"text","align":"left","baseline":"middle","fontSize":8.6,"color":"#333333"},
 "encoding":{"x":{"field":"k","type":"quantitative","scale":{"domain":[0,1],"range":[902,903],"nice":false,"zero":false},"axis":null},
 "y":{"field":"k","type":"quantitative","scale":{"domain":[0,1],"range":[1078,1079],"nice":false,"zero":false},"axis":null},"text":{"field":"t"}}},

{"data":{"values":[{"t":"Estimate in batch","k":0},{"t":"Statistical data","k":1}]},
 "mark":{"type":"text","align":"center","baseline":"middle","fontSize":9.7,"color":"#eef5e2"},
 "encoding":{"x":{"field":"k","type":"quantitative","scale":{"domain":[0,1],"range":[120,224.5],"nice":false,"zero":false},"axis":null},
 "y":{"field":"k","type":"quantitative","scale":{"domain":[0,1],"range":[484.5,484.5],"nice":false,"zero":false},"axis":null},"text":{"field":"t"}}},
{"data":{"values":[{"t":"Show model details","k":0},{"t":"Download .csv","k":1}]},
 "mark":{"type":"text","align":"center","baseline":"middle","fontSize":8.8,"color":"#eef5e2"},
 "encoding":{"x":{"field":"k","type":"quantitative","scale":{"domain":[0,1],"range":[763.5,851],"nice":false,"zero":false},"axis":null},
 "y":{"field":"k","type":"quantitative","scale":{"domain":[0,1],"range":[1078,1078],"nice":false,"zero":false},"axis":null},"text":{"field":"t"}}},
{"data":{"values":[{"t":"Add new parameter","k":0}]},
 "mark":{"type":"text","align":"center","baseline":"middle","font":"DejaVu Sans","fontWeight":"bold","fontSize":7.8,"color":"#333333"},
 "encoding":{"x":{"field":"k","type":"quantitative","scale":{"domain":[0,1],"range":[387,388],"nice":false,"zero":false},"axis":null},
 "y":{"field":"k","type":"quantitative","scale":{"domain":[0,1],"range":[434.5,435.5],"nice":false,"zero":false},"axis":null},"text":{"field":"t"}}},
{"data":{"values":[{"t":"show measurements","k":0},{"t":"show measurements","k":1}]},
 "mark":{"type":"text","align":"center","baseline":"middle","font":"DejaVu Sans","fontWeight":"bold","fontSize":6,"color":"#333333"},
 "encoding":{"x":{"field":"k","type":"quantitative","scale":{"domain":[0,1],"range":[820,820],"nice":false,"zero":false},"axis":null},
 "y":{"field":"k","type":"quantitative","scale":{"domain":[0,1],"range":[988.5,1030.5],"nice":false,"zero":false},"axis":null},"text":{"field":"t"}}},

{"data":{"values":[{"t":"A + Bx","k":0},{"t":"log","k":1},{"t":"A=-3.21089,B=1.05865","k":2}]},
 "mark":{"type":"text","align":"left","baseline":"middle","fontSize":6.8,"color":"#555555"},
 "encoding":{"x":{"field":"k","type":"quantitative","scale":{"domain":[0,1,2],"range":[916,961,993],"nice":false,"zero":false},"axis":null},
 "y":{"field":"k","type":"quantitative","scale":{"domain":[0,2],"range":[107,107],"nice":false,"zero":false},"axis":null},"text":{"field":"t"}}},

{"data":{"values":[
 {"r":0,"c":0,"t":"Baranyi"},{"r":0,"c":2,"t":"0.06776"},{"r":0,"c":3,"t":"goto"},{"r":0,"c":4,"t":"download .csv"},{"r":0,"c":5,"t":"edit"},{"r":0,"c":6,"t":"delete"},
 {"r":1,"c":0,"t":"Gompertz"},{"r":1,"c":1,"t":"OD max.=4.351926,λ=0.070722,μ max.=1.31159,Ln(N(0))=-3.449297"},{"r":1,"c":2,"t":"0.12233"},{"r":1,"c":3,"t":"goto"},{"r":1,"c":4,"t":"download .csv"},{"r":1,"c":5,"t":"edit"},{"r":1,"c":6,"t":"delete"},
 {"r":2,"c":0,"t":"Logistics"},{"r":2,"c":1,"t":"A=5.050589,λ= -0.587761,μ max.=1.237906,Ln(N(0))=-4.185962"},{"r":2,"c":2,"t":"0.10326"},{"r":2,"c":3,"t":"goto"},{"r":2,"c":4,"t":"download .csv"},{"r":2,"c":5,"t":"edit"},{"r":2,"c":6,"t":"delete"}]},
 "mark":{"type":"text","align":"left","baseline":"middle","fontSize":7.3,"color":"#555555"},
 "encoding":{"x":{"field":"c","type":"quantitative","scale":{"domain":[0,1,2,3,4,5,6],"range":[741,782,1051,1105,1134,1202,1217],"nice":false,"zero":false},"axis":null},
 "y":{"field":"r","type":"quantitative","scale":{"domain":[0,1,2],"range":[181,199.5,214.5],"nice":false,"zero":false},"axis":null},"text":{"field":"t"}}},
{"data":{"values":[{"k":0,"t":"h0=5.0,m=1.205339,μ\nmax.=1.53249,v=0.626468,y0=-3.241985,ymax=1.223487"}]},
 "mark":{"type":"text","align":"left","baseline":"middle","fontSize":7.1,"color":"#555555","lineBreak":"\n","lineHeight":8.5},
 "encoding":{"x":{"field":"k","type":"quantitative","scale":{"domain":[0,1],"range":[782,783],"nice":false,"zero":false},"axis":null},
 "y":{"field":"k","type":"quantitative","scale":{"domain":[0,1],"range":[177,178],"nice":false,"zero":false},"axis":null},"text":{"field":"t"}}},

{"data":{"values":[
 {"r":0,"c":0,"t":"Baranyi"},{"r":0,"c":1,"t":"h0=4.185224,m=0.73897,μ max.=1.861776,v=1.798005,y0=-2.860095,ymax=0.06051"},{"r":0,"c":2,"t":"0.14976"},{"r":0,"c":3,"t":"goto"},{"r":0,"c":5,"t":"edit"},{"r":0,"c":6,"t":"delete"},
 {"r":1,"c":0,"t":"Gompertz"},{"r":1,"c":1,"t":"OD max.=4.024357,λ=0.171627,μ max.=1.101901,Ln(N(0))=-3.018867"},{"r":1,"c":2,"t":"0.17185"},{"r":1,"c":3,"t":"goto"},{"r":1,"c":5,"t":"edit"},{"r":1,"c":6,"t":"delete"}]},
 "mark":{"type":"text","align":"left","baseline":"middle","fontSize":7.2,"color":"#555555"},
 "encoding":{"x":{"field":"c","type":"quantitative","scale":{"domain":[0,1,2,3,4,5,6],"range":[83,127,442,510,533,589,608],"nice":false,"zero":false},"axis":null},
 "y":{"field":"r","type":"quantitative","scale":{"domain":[0,1],"range":[674,698],"nice":false,"zero":false},"axis":null},"text":{"field":"t"}}},
{"data":{"values":[{"k":0,"t":"download\n.csv"},{"k":1,"t":"download\n.csv"}]},
 "mark":{"type":"text","align":"left","baseline":"middle","fontSize":7.2,"color":"#555555","lineBreak":"\n","lineHeight":10},
 "encoding":{"x":{"field":"k","type":"quantitative","scale":{"domain":[0,1],"range":[533,533],"nice":false,"zero":false},"axis":null},
 "y":{"field":"k","type":"quantitative","scale":{"domain":[0,1],"range":[669,693],"nice":false,"zero":false},"axis":null},"text":{"field":"t"}}},

{"data":{"values":[{"t":"Download table as .csv","k":0},{"t":"Download chart as .svg","k":1},{"t":"Download chart as .png","k":2},{"t":"Experiments count:","k":3},{"t":"Measurements count:","k":4}]},
 "mark":{"type":"text","align":"right","baseline":"middle","fontSize":8.2,"color":"#707070"},
 "encoding":{"x":{"field":"k","type":"quantitative","scale":{"domain":[0,1,2,3,4],"range":[1271,641,641,849,849],"nice":false,"zero":false},"axis":null},
 "y":{"field":"k","type":"quantitative","scale":{"domain":[0,1,2,3,4],"range":[242,1036,1046,864,873],"nice":false,"zero":false},"axis":null},"text":{"field":"t"}}},

{"data":{"values":[{"t":"(goto project)","k":0},{"t":"(show experiment)","k":1},{"t":"(show experiment)","k":2},{"t":"(show experiment)","k":3}]},
 "mark":{"type":"text","align":"left","baseline":"middle","fontSize":7,"color":"#888888"},
 "encoding":{"x":{"field":"k","type":"quantitative","scale":{"domain":[0,1,2,3],"range":[876,773,785,784],"nice":false,"zero":false},"axis":null},
 "y":{"field":"k","type":"quantitative","scale":{"domain":[0,1,2,3],"range":[846.5,909.5,968.5,1010.5],"nice":false,"zero":false},"axis":null},"text":{"field":"t"}}},

{"data":{"values":[
 {"t":"The information below represents a consolidated view of the parameter estimation results for the live cell fraction model model. It only shows","k":0},
 {"t":"projects and data where this model is used.","k":1},
 {"t":"Milotti et al, Interplay between distribution of live cells and growth dynamics of solid tumours, Sci Rep., 2, December 2012","k":2},
 {"t":"alpha","k":3},{"t":"delta","k":4},{"t":"lambda","k":5},{"t":"r0","k":6},
 {"t":"3","k":7},{"t":"28","k":8},{"t":"Measurements count:","k":9},{"t":"4","k":10}]},
 "mark":{"type":"text","align":"left","baseline":"middle","fontSize":8.2,"color":"#5a5a5a"},
 "encoding":{"x":{"field":"k","type":"quantitative","scale":{"domain":[0,1,2,3,4,5,6,7,8,9,10],"range":[739,739,739,947,947,947,947,857,857,791,879],"nice":false,"zero":false},"axis":null},
 "y":{"field":"k","type":"quantitative","scale":{"domain":[0,1,2,3,4,5,6,7,8,9,10],"range":[652,661,695,747,761.3,775.6,790,864,873,927,927],"nice":false,"zero":false},"axis":null},"text":{"field":"t"}}},

{"data":{"values":[{"c":0,"t":"R1"},{"c":1,"t":"4.2421"},{"c":2,"t":"0.20943"},{"c":3,"t":"7.65275"},{"c":4,"t":"7.71208"},{"c":5,"t":"48.88053"},{"c":6,"t":"1.00484"},{"c":7,"t":"1.00484"},{"c":8,"t":"goto"}]},
 "mark":{"type":"text","align":"left","baseline":"middle","font":"DejaVu Sans","fontSize":7,"color":"#555555"},
 "encoding":{"x":{"field":"c","type":"quantitative","scale":{"domain":[0,1,2,3,4,5,6,7,8],"range":[848,873,907,947,986,1024,1068,1107,1152],"nice":false,"zero":false},"axis":null},
 "y":{"field":"c","type":"quantitative","scale":{"domain":[0,8],"range":[960,960],"nice":false,"zero":false},"axis":null},"text":{"field":"t"}}}
]
}
